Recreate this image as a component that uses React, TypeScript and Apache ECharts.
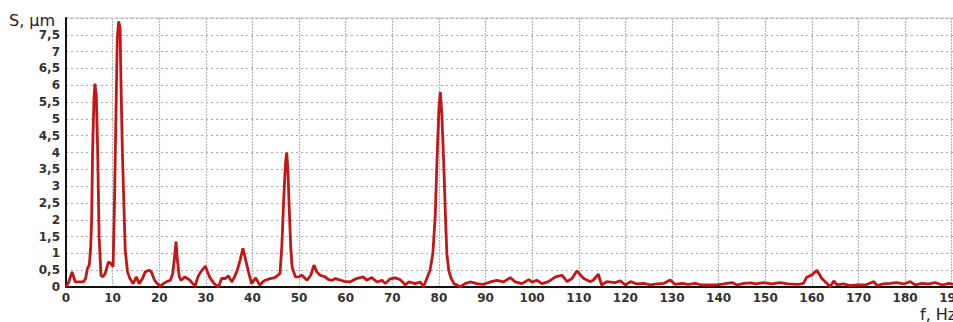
import React, { useEffect, useRef } from "react";
import * as echarts from "echarts";

// frequency (Hz) and displacement amplitude (µm)
const freqs: number[] = [
  0, 0.6, 1.3, 2.0, 3.0, 3.7, 4.2, 4.6, 5.0, 5.3, 5.5, 5.7, 6.0, 6.2, 6.5, 6.8, 7.1, 7.5, 7.9, 8.4,
  9.1, 9.6, 10.1, 10.4, 10.7, 11.0, 11.3, 11.6, 11.8, 12.1, 12.7, 13.2, 13.7, 14.4, 15.1, 15.7, 16.4, 17.0, 17.8, 18.3,
  19.0, 19.6, 20.2, 20.9, 21.6, 22.4, 22.9, 23.3, 23.6, 23.9, 24.3, 24.7, 25.5, 26.6, 27.2, 27.7, 28.3, 28.9, 29.9, 30.5,
  30.9, 31.8, 32.7, 33.4, 34.1, 34.85, 35.55, 36.15, 36.75, 37.35, 37.95, 38.55, 39.15, 39.8, 40.7, 41.6, 42.2, 42.7, 43.8, 44.8,
  45.9, 46.3, 46.7, 47.1, 47.35, 47.6, 47.9, 48.2, 48.5, 49.2, 50.0, 50.6, 51.7, 52.5, 53.2, 53.8, 54.5, 55.6, 56.3, 57.1,
  57.8, 58.5, 59.6, 60.9, 62.3, 63.8, 64.5, 65.6, 66.7, 67.8, 68.5, 69.5, 70.6, 71.7, 72.8, 73.5, 74.9, 76.0, 76.7, 77.4,
  78.1, 78.7, 79.2, 79.6, 80.0, 80.3, 80.6, 81.0, 81.4, 81.7, 82.1, 82.5, 83.2, 84.6, 85.6, 86.7, 88.1, 89.5, 91.0, 92.4,
  93.9, 95.3, 96.4, 97.8, 99.3, 100.0, 101.0, 102.1, 103.5, 105.0, 106.4, 107.5, 108.6, 109.6, 111.0, 112.4, 113.1, 114.2, 114.9, 116.0,
  117.8, 118.9, 120.0, 121.1, 122.5, 123.9, 125.4, 126.8, 128.3, 129.6, 130.6, 132.1, 133.5, 135.0, 136.4, 138.2, 139.7, 141.1, 142.9, 144.0,
  145.4, 146.9, 147.9, 149.6, 151.4, 153.2, 154.9, 157.1, 158.2, 158.9, 160.0, 161.1, 162.1, 163.2, 163.9, 164.7, 165.4, 166.8, 168.2, 169.7,
  171.5, 173.3, 174.0, 175.3, 176.8, 178.2, 179.7, 181.1, 182.2, 183.6, 185.1, 186.5, 188.0, 189.4, 190.4, 192.2,
];
const amps: number[] = [
  0, 0.15, 0.45, 0.15, 0.15, 0.15, 0.25, 0.55, 0.65, 1.2, 2.0, 4.0, 5.6, 6.05, 5.7, 4.0, 1.5, 0.35, 0.3, 0.4,
  0.75, 0.7, 0.6, 2.5, 5.0, 7.4, 7.9, 7.7, 6.0, 4.0, 1.1, 0.45, 0.25, 0.1, 0.3, 0.1, 0.25, 0.45, 0.5, 0.45,
  0.2, 0.1, 0.02, 0.1, 0.16, 0.2, 0.4, 0.9, 1.35, 0.8, 0.3, 0.2, 0.3, 0.2, 0.1, 0.03, 0.3, 0.45, 0.62, 0.4,
  0.27, 0.1, 0.0, 0.26, 0.25, 0.33, 0.15, 0.3, 0.5, 0.8, 1.15, 0.8, 0.45, 0.1, 0.27, 0.05, 0.15, 0.2, 0.25, 0.28,
  0.4, 1.2, 2.6, 3.7, 4.0, 3.5, 2.3, 1.2, 0.6, 0.3, 0.3, 0.35, 0.2, 0.35, 0.65, 0.45, 0.35, 0.3, 0.22, 0.2,
  0.25, 0.22, 0.17, 0.15, 0.25, 0.3, 0.2, 0.28, 0.15, 0.2, 0.1, 0.24, 0.27, 0.22, 0.06, 0.15, 0.1, 0.15, 0.01, 0.25,
  0.5, 1.0, 2.1, 3.8, 5.3, 5.8, 5.2, 3.8, 2.1, 1.0, 0.5, 0.3, 0.1, 0.01, 0.1, 0.15, 0.1, 0.08, 0.15, 0.2,
  0.15, 0.28, 0.15, 0.1, 0.22, 0.14, 0.2, 0.1, 0.16, 0.3, 0.35, 0.16, 0.26, 0.48, 0.26, 0.16, 0.2, 0.38, 0.06, 0.16,
  0.13, 0.18, 0.06, 0.16, 0.09, 0.11, 0.06, 0.09, 0.11, 0.21, 0.08, 0.11, 0.08, 0.11, 0.06, 0.06, 0.06, 0.09, 0.13, 0.06,
  0.11, 0.12, 0.09, 0.13, 0.09, 0.13, 0.09, 0.08, 0.11, 0.29, 0.36, 0.5, 0.26, 0.11, 0.01, 0.18, 0.06, 0.09, 0.04, 0.06,
  0.06, 0.16, 0.04, 0.09, 0.11, 0.13, 0.09, 0.16, 0.06, 0.11, 0.09, 0.13, 0.06, 0.11, 0.08, 0.1,
];

const yAxisTitle = "S, μm";
const xAxisTitle = "f, Hz";

export default function App() {
  const ref = useRef<HTMLDivElement>(null);
  useEffect(() => {
    if (!ref.current) return;
    const chart = echarts.init(ref.current, undefined, { renderer: "svg" });
    const data = freqs.map((f, i) => [f, amps[i]]);
    const labelStyle = {
      color: "#333",
      fontFamily: "DejaVu Sans",
      fontWeight: "bold" as const,
      fontSize: 12,
    };
    chart.setOption({
      animation: false,
      backgroundColor: "#fff",
      grid: {
        left: 66,
        top: 18,
        width: 909,
        height: 269,
        show: true,
        borderColor: "#c8c8c8",
        borderWidth: 1,
      },
      xAxis: {
        type: "value",
        min: 0,
        max: 195,
        interval: 10,
        axisLine: { show: true, onZero: false, lineStyle: { color: "#111", width: 2 } },
        axisTick: { show: false },
        axisLabel: { ...labelStyle, margin: 5, showMaxLabel: false },
        splitLine: { show: true, lineStyle: { color: "#b4b4b4", type: [2, 1], width: 1.2 } },
      },
      yAxis: {
        type: "value",
        min: 0,
        max: 8,
        interval: 0.5,
        axisLine: { show: true, lineStyle: { color: "#111", width: 2 } },
        axisTick: { show: false },
        axisLabel: {
          ...labelStyle,
          margin: 6,
          formatter: (v: number) => (v >= 8 ? "" : String(v).replace(".", ",")),
        },
        splitLine: { show: true, lineStyle: { color: "#a8a8a8", type: [2, 3], width: 1 } },
      },
      graphic: [
        {
          type: "text",
          left: 9,
          top: 12,
          style: { text: yAxisTitle, fill: "#222", font: "16px 'DejaVu Sans'" },
        },
        {
          type: "text",
          left: 920,
          top: 306,
          style: { text: xAxisTitle, fill: "#222", font: "16px 'DejaVu Sans'" },
        },
      ],
      series: [
        {
          type: "line",
          data,
          showSymbol: false,
          symbol: "none",
          lineStyle: { color: "#c41616", width: 2.8 },
          z: 5,
        },
      ],
    });
    return () => chart.dispose();
  }, []);
  return (
    <div style={{ position: "fixed", left: 0, top: 0, width: 953, height: 322, overflow: "hidden", background: "#fff" }}>
      <div ref={ref} style={{ width: 980, height: 322 }} />
    </div>
  );
}
